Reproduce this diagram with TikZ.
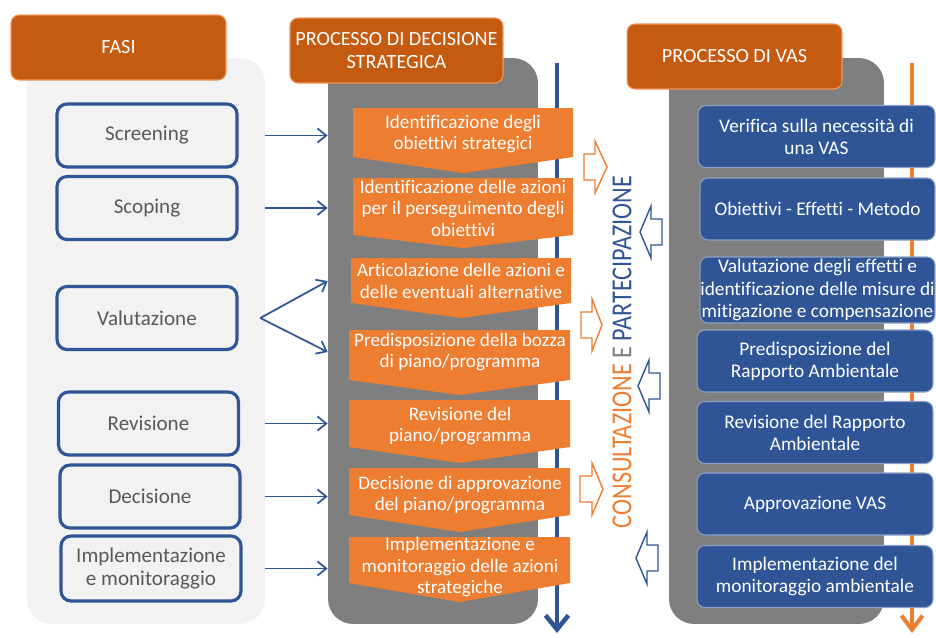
\documentclass[tikz,border=0pt]{standalone}
\usepackage{fontspec}
\setmainfont[Ligatures=NoCommon]{Carlito}
\usetikzlibrary{arrows.meta}
\definecolor{hdr}{HTML}{C55A11}
\definecolor{org}{HTML}{ED7D31}
\definecolor{blu}{HTML}{2F5597}
\definecolor{gpan}{HTML}{7F7F7F}
\definecolor{lpan}{HTML}{F2F2F2}
\definecolor{txtg}{HTML}{595959}
\newcommand\chev[5]{\fill[org] (#1,#3) -- (#2,#3) -- (#2,#4) -- ({(#1+#2)/2},#5) -- (#1,#4) -- cycle;}
\newcommand\rarr[4]{\draw[org, line width=0.8pt, fill=white] (#1,{#4-13}) -- (#2,{#4-13}) -- (#2,{#4-26}) -- (#3,#4) -- (#2,{#4+26}) -- (#2,{#4+13}) -- (#1,{#4+13}) -- cycle;}
\newcommand\larr[4]{\draw[blu, line width=0.8pt, fill=white] (#3,{#4-13}) -- (#2,{#4-13}) -- (#2,{#4-26}) -- (#1,#4) -- (#2,{#4+26}) -- (#2,{#4+13}) -- (#3,{#4+13}) -- cycle;}
\begin{document}
\begin{tikzpicture}[x=0.02cm,y=-0.02cm,
  header/.style={fill=hdr, draw=org!80!white, line width=0.6pt, rounded corners=0.16cm, text=white,
    font=\fontsize{11.5}{13.5}\selectfont, align=center, minimum width=4.3cm, minimum height=1.3cm, inner sep=0},
  panel/.style={rounded corners=0.5cm, inner sep=0, minimum height=11.32cm},
  fasebox/.style={draw=blu, line width=1.8pt, fill=lpan, rounded corners=0.2cm, text=txtg,
    font=\fontsize{12}{13.6}\selectfont, align=center, minimum width=3.6cm, minimum height=1.26cm, inner sep=0},
  chevtext/.style={text=white, font=\fontsize{10.9}{12.2}\selectfont, align=center, inner sep=0},
  vasbox/.style={fill=blu, draw=blu!55!white, line width=0.6pt, rounded corners=0.16cm, text=white,
    font=\fontsize{11}{12.6}\selectfont, align=center, minimum width=4.72cm, minimum height=1.24cm, inner sep=0},
  conn/.style={draw=blu, line width=1pt, -{Straight Barb[length=5pt,width=8pt]}}
]
\useasboundingbox (0,0) rectangle (936,637);
% panels
\node[panel, fill=lpan, minimum width=4.76cm] (fasipanel) at (146,341) {};
\node[panel, fill=gpan, minimum width=4.2cm] (dpanel) at (433,341) {};
\node[panel, fill=gpan, minimum width=4.3cm] (vpanel) at (776.5,341) {};
% vertical process lines
\coordinate (btop) at (557,63);
\coordinate (bbot) at (557,633);
\coordinate (otop) at (912,63);
\coordinate (obot) at (912,633);
\draw[blu, line width=2.6pt, -{Straight Barb[length=8pt,width=13pt]}] (btop) -- (bbot);
\draw[org, line width=2.3pt, -{Straight Barb[length=8pt,width=12pt]}] (otop) -- (obot);
% headers
\node[header] (hfasi) at (118.5,47.5) {FASI};
\node[header, minimum width=4.26cm] (hdec) at (396.5,50.5) {PROCESSO DI DECISIONE\\STRATEGICA};
\node[header] (hvas) at (734.5,56.5) {PROCESSO DI VAS};
% fasi
\node[fasebox] (scr) at (147,135.5) {Screening};
\node[fasebox] (sco) at (147,208) {Scoping};
\node[fasebox] (val) at (147,318) {Valutazione};
\node[fasebox] (rev) at (148.5,423.5) {Revisione};
\node[fasebox] (dec) at (150,496.5) {Decisione};
\node[fasebox, minimum height=1.3cm] (imp) at (151,568.5) {Implementazione\\e monitoraggio};
% chevrons
\chev{353}{573}{108}{157}{173}
\chev{353}{573}{178}{235}{248}
\chev{351}{571}{258}{303}{318}
\chev{349}{570}{330}{380}{395}
\chev{349}{570}{400}{447}{463}
\chev{349}{570}{468}{515}{532}
\chev{349}{570}{537}{583}{602}
\node[chevtext] (c1) at (463,134) {Identificazione degli\\obiettivi strategici};
\node[chevtext] (c2) at (463,208) {Identificazione delle azioni\\per il perseguimento degli\\obiettivi};
\node[chevtext] (c3) at (461,281) {Articolazione delle azioni e\\delle eventuali alternative};
\node[chevtext] (c4) at (460,352) {Predisposizione della bozza\\di piano/programma};
\node[chevtext] (c5) at (460,426) {Revisione del\\piano/programma};
\node[chevtext] (c6) at (460,495) {Decisione di approvazione\\del piano/programma};
\node[chevtext] (c7) at (460,567) {Implementazione e\\monitoraggio delle azioni\\strategiche};
% vas boxes
\node[vasbox, minimum width=4.74cm] (v1) at (816.5,136.5) {Verifica sulla necessità di\\una VAS};
\node[vasbox, minimum width=4.7cm] (v2) at (817.5,209) {Obiettivi - Effetti - Metodo};
\node[vasbox, minimum width=4.7cm, minimum height=1.32cm] (v3) at (817.5,290) {Valutazione degli effetti e\\identificazione delle misure di\\mitigazione e compensazione};
\node[vasbox] (v4) at (815,361) {Predisposizione del\\Rapporto Ambientale};
\node[vasbox] (v5) at (815,432.5) {Revisione del Rapporto\\Ambientale};
\node[vasbox] (v6) at (815,504) {Approvazione VAS};
\node[vasbox] (v7) at (815,576.5) {Implementazione del\\monitoraggio ambientale};
% block arrows
\rarr{584}{595}{607}{167}
\rarr{581}{592}{602}{325}
\rarr{580}{592}{603}{489}
\larr{640}{651}{662}{232}
\larr{638}{649}{660}{386}
\larr{636}{647}{658}{558}
% vertical text
\node[rotate=90, inner sep=0] (cp) at (622,352) {\scalebox{0.835}[1]{\fontsize{16.5}{18}\selectfont\color{org}CONSULTAZIONE \color{gpan}E \color{blu}PARTECIPAZIONE}};
% connectors
\draw[conn] (scr.east -| fasipanel.east) -- (scr.east -| dpanel.west);
\draw[conn] (sco.east -| fasipanel.east) -- (sco.east -| dpanel.west);
\draw[conn] ([xshift=-0.1cm]val.east -| fasipanel.east) -- (dpanel.west |- c3);
\draw[conn] ([xshift=-0.1cm]val.east -| fasipanel.east) -- (dpanel.west |- c4);
\draw[conn] (rev.east -| fasipanel.east) -- (rev.east -| dpanel.west);
\draw[conn] (dec.east -| fasipanel.east) -- (dec.east -| dpanel.west);
\draw[conn] (imp.east -| fasipanel.east) -- (imp.east -| dpanel.west);
\end{tikzpicture}
\end{document}
